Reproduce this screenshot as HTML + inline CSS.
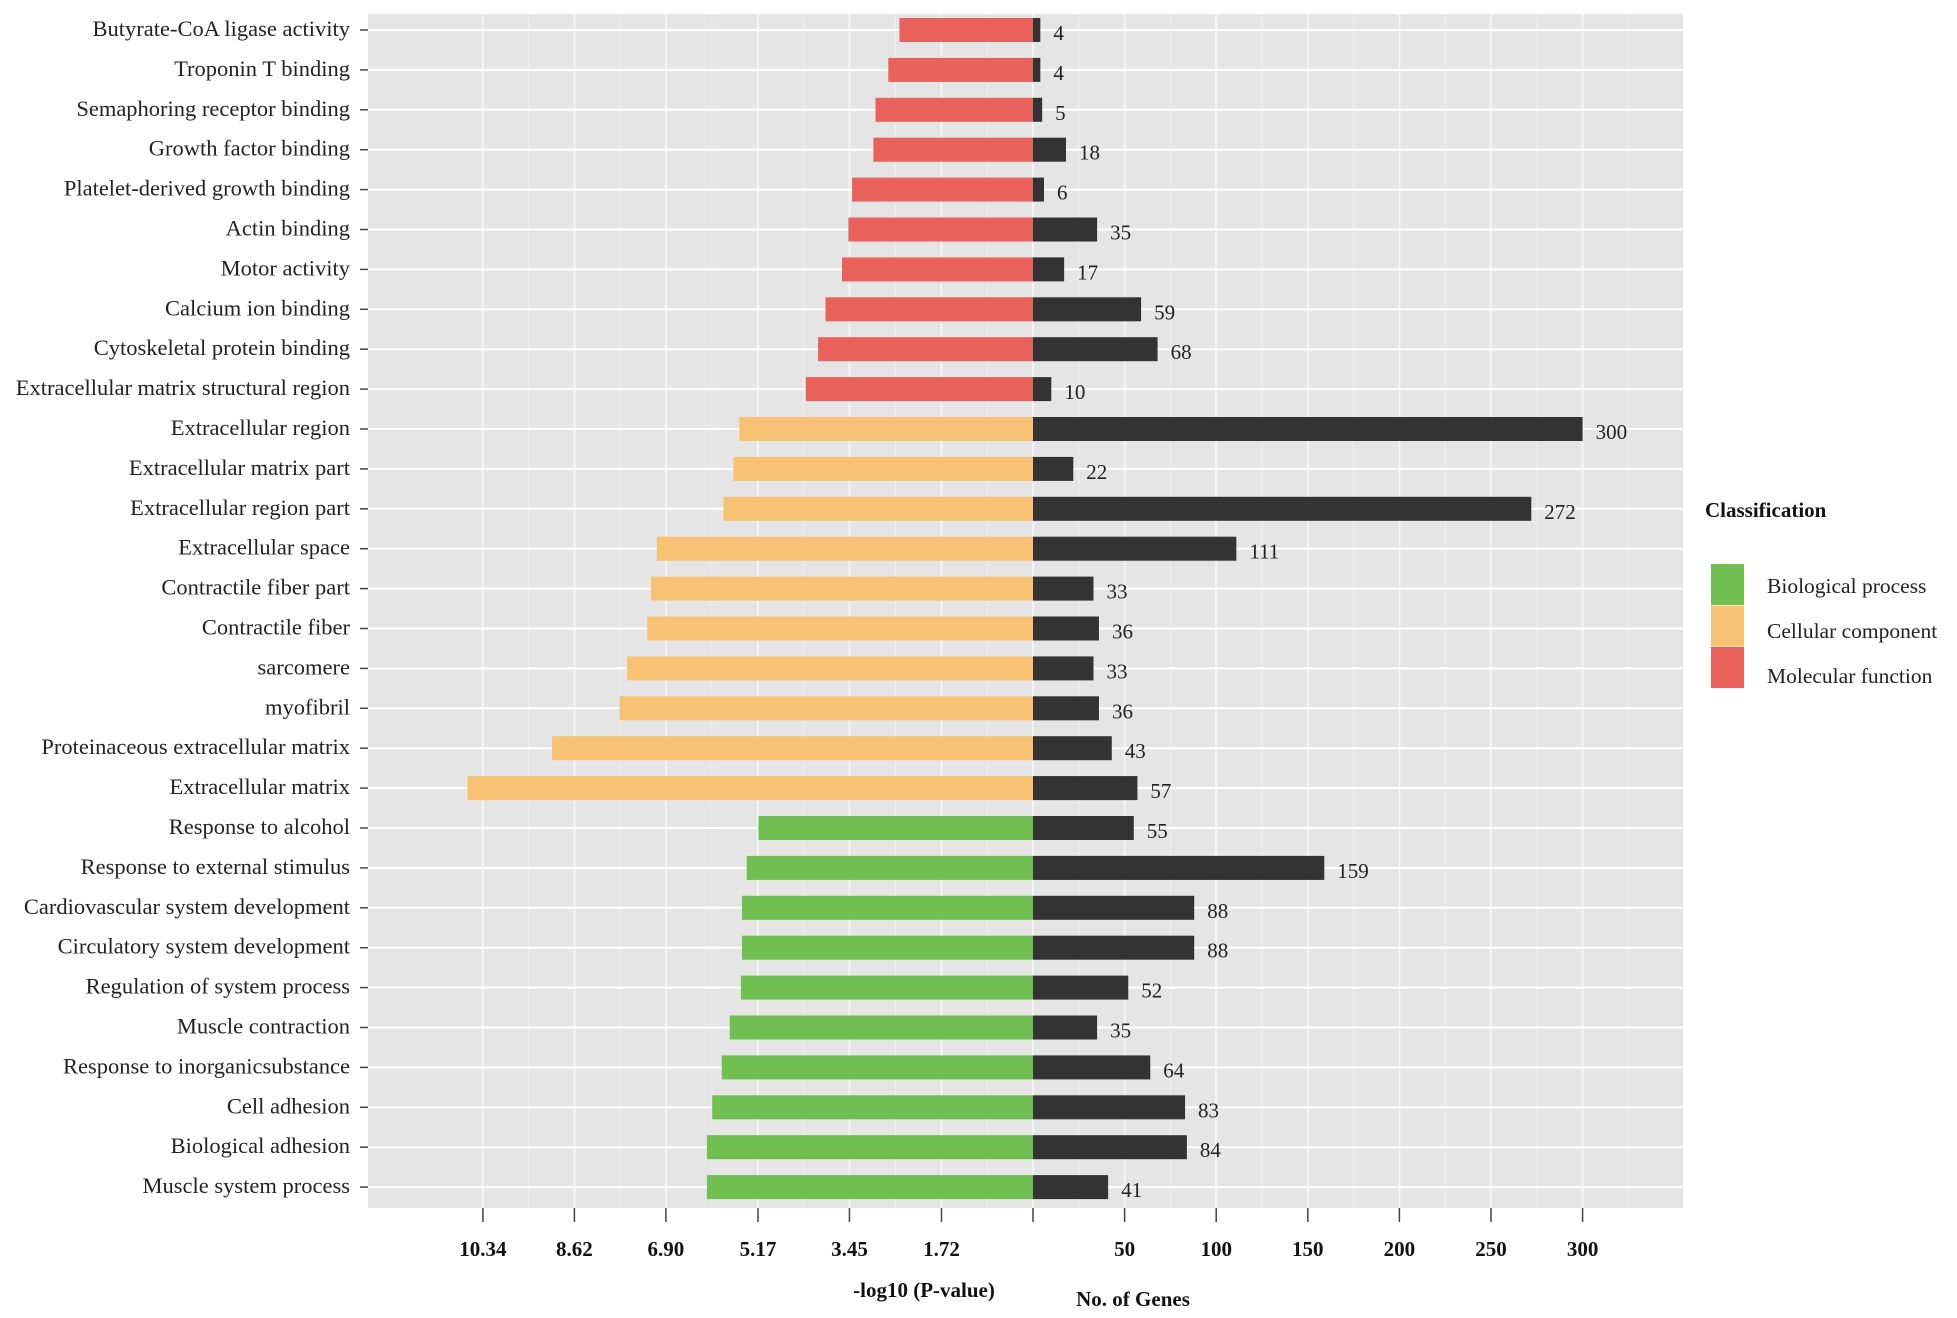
<!DOCTYPE html>
<html><head><meta charset="utf-8"><style>
html,body{margin:0;padding:0;background:#fff;}
svg{display:block;font-family:"Liberation Serif",serif;}
</style></head><body>
<svg id="chart" width="1957" height="1318" viewBox="0 0 1957 1318" xmlns="http://www.w3.org/2000/svg"></svg>
<script>
const categories = ["Butyrate-CoA ligase activity","Troponin T binding","Semaphoring receptor binding","Growth factor binding","Platelet-derived growth binding","Actin binding","Motor activity","Calcium ion binding","Cytoskeletal protein binding","Extracellular matrix structural region","Extracellular region","Extracellular matrix  part","Extracellular region part","Extracellular space","Contractile fiber part","Contractile fiber","sarcomere","myofibril","Proteinaceous extracellular matrix","Extracellular matrix","Response to alcohol","Response to external stimulus","Cardiovascular system development","Circulatory system development","Regulation of system process","Muscle contraction","Response to inorganicsubstance","Cell adhesion","Biological adhesion","Muscle system process"];
const classes = ["MF","MF","MF","MF","MF","MF","MF","MF","MF","MF","CC","CC","CC","CC","CC","CC","CC","CC","CC","CC","BP","BP","BP","BP","BP","BP","BP","BP","BP","BP"];
const logP = [2.51,2.72,2.96,3.00,3.40,3.47,3.59,3.90,4.04,4.27,5.52,5.63,5.82,7.07,7.18,7.25,7.63,7.77,9.04,10.63,5.16,5.38,5.47,5.47,5.49,5.70,5.85,6.03,6.13,6.13];
const genes = [4,4,5,18,6,35,17,59,68,10,300,22,272,111,33,36,33,36,43,57,55,159,88,88,52,35,64,83,84,41];
const leftTicks = [1.72,3.45,5.17,6.90,8.62,10.34];
const rightTicks = [50,100,150,200,250,300];
const legendLabels = ["Biological process","Cellular component","Molecular function"];
const legendKeys = ["BP","CC","MF"];

const colors = {MF:"#E8615B",CC:"#F7C274",BP:"#71BF51"};
const svg = document.getElementById('chart');
const NS = "http://www.w3.org/2000/svg";
function mk(tag, attrs, parent){const e=document.createElementNS(NS,tag);for(const k in attrs)e.setAttribute(k,attrs[k]);(parent||svg).appendChild(e);return e;}

const panel = {x0:368,x1:1683,y0:14,y1:1208};
const zeroX = 1033;
const pxPerLog = 53.2;
const pxPerGene = 1.832;
const xLeft = v => zeroX - v*pxPerLog;
const xRight = v => zeroX + v*pxPerGene;
const rowY = i => 30 + i*39.9;
const barH = 24;

const bg = mk('rect',{x:panel.x0,y:panel.y0,width:panel.x1-panel.x0,height:panel.y1-panel.y0,fill:"#E5E5E5"});



const grid = mk('g',{});


const lt=[0].concat(leftTicks);
for(let i=0;i<lt.length;i++){
  mk('line',{x1:xLeft(lt[i]),x2:xLeft(lt[i]),y1:panel.y0,y2:panel.y1,stroke:"#F4F4F4","stroke-width":2},grid);
  if(i<lt.length-1){const m=(lt[i]+lt[i+1])/2;mk('line',{x1:xLeft(m),x2:xLeft(m),y1:panel.y0,y2:panel.y1,stroke:"#EEEEEE","stroke-width":1},grid);}
}
const rt=[0].concat(rightTicks);
for(let i=0;i<rt.length;i++){
  mk('line',{x1:xRight(rt[i]),x2:xRight(rt[i]),y1:panel.y0,y2:panel.y1,stroke:"#F4F4F4","stroke-width":2},grid);
  const m=rt[i]+25;mk('line',{x1:xRight(m),x2:xRight(m),y1:panel.y0,y2:panel.y1,stroke:"#EEEEEE","stroke-width":1},grid);
}
categories.forEach((c,i)=>{mk('line',{x1:panel.x0,x2:panel.x1,y1:rowY(i),y2:rowY(i),stroke:"#fff","stroke-width":2},grid);});

categories.forEach((c,i)=>{
  const y=rowY(i);
  const b=mk('rect',{x:xLeft(logP[i]),y:y-barH/2,width:zeroX-xLeft(logP[i]),height:barH,fill:colors[classes[i]]});
  
  
  const g=mk('rect',{x:zeroX,y:y-barH/2,width:xRight(genes[i])-zeroX,height:barH,fill:"#333333"});
  
  
  const t=mk('text',{x:xRight(genes[i])+13,y:y+10,"font-size":21,fill:"#222"});
  t.textContent=genes[i];
  
  
  const l=mk('text',{x:350,y:y+6,"font-size":22.5,"text-anchor":"end",fill:"#222"});
  l.textContent=c;
  
  
  mk('line',{x1:360,x2:368,y1:y,y2:y,stroke:"#444","stroke-width":1.5});
});

leftTicks.forEach(v=>{
  mk('line',{x1:xLeft(v),x2:xLeft(v),y1:panel.y1,y2:panel.y1+14,stroke:"#444","stroke-width":1.5});
  const t=mk('text',{x:xLeft(v),y:1256,"font-size":21,"font-weight":"bold","text-anchor":"middle",fill:"#111"});
  t.textContent=v.toFixed(2);
  
  
});
rightTicks.forEach(v=>{
  mk('line',{x1:xRight(v),x2:xRight(v),y1:panel.y1,y2:panel.y1+14,stroke:"#444","stroke-width":1.5});
  const t=mk('text',{x:xRight(v),y:1256,"font-size":21,"font-weight":"bold","text-anchor":"middle",fill:"#111"});
  t.textContent=v;
  
  
});
mk('line',{x1:zeroX,x2:zeroX,y1:panel.y1,y2:panel.y1+14,stroke:"#444","stroke-width":1.5});

const at1=mk('text',{x:924,y:1297,"font-size":21,"font-weight":"bold","text-anchor":"middle",fill:"#111"});
at1.textContent="-log10  (P-value)";


const at2=mk('text',{x:1133,y:1306,"font-size":21,"font-weight":"bold","text-anchor":"middle",fill:"#111"});
at2.textContent="No. of Genes";



const lg=mk('g',{});


const lt2=mk('text',{x:1705,y:517,"font-size":21,"font-weight":"bold",fill:"#111"},lg);
lt2.textContent="Classification";


legendLabels.forEach((s,i)=>{
  const y=564+i*41.5;
  const k=mk('rect',{x:1711,y:y,width:33,height:41,fill:colors[legendKeys[i]]},lg);
  
  
  const t=mk('text',{x:1767,y:593+i*45,"font-size":21.5,fill:"#222"},lg);
  t.textContent=s;
  
  
});
</script>
</body></html>
